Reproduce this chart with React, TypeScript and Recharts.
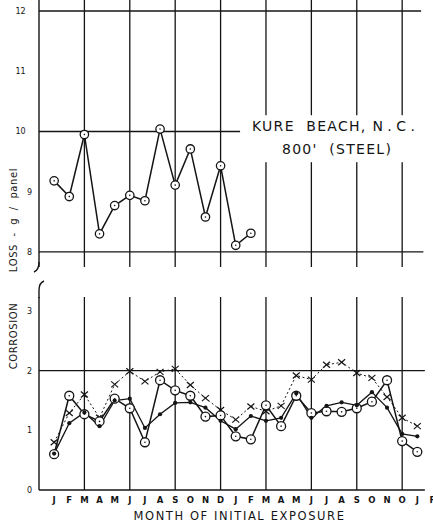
import React from "react";
import { LineChart, Line, XAxis, YAxis, ReferenceLine, ReferenceArea, Customized, Label } from "recharts";

// month of initial exposure, two years (the 24th label prints as "O")
const months = ["J", "F", "M", "A", "M", "J", "J", "A", "S", "O", "N", "D", "J", "F", "M", "A", "M", "J", "J", "A", "S", "O", "N", "O", "J", "F"];
const monthTicks = months.map((_, i) => i);
const gridMonths = [2, 5, 8, 11, 14, 17, 20, 23];

// upper panel: 800 ft lot, g / panel
const steel800 = [9.18, 8.92, 9.95, 8.3, 8.77, 8.94, 8.85, 10.04, 9.11, 9.71, 8.58, 9.43, 8.11, 8.31];

// lower panel: three series
const openCircles = [0.6, 1.58, 1.27, 1.15, 1.53, 1.37, 0.8, 1.84, 1.67, 1.58, 1.23, 1.25, 0.9, 0.85, 1.42, 1.07, 1.58, 1.29, 1.32, 1.31, 1.37, 1.48, 1.84, 0.82, 0.64];
const solidDots = [0.61, 1.12, 1.3, 1.07, 1.5, 1.53, 1.04, 1.27, 1.46, 1.47, 1.38, 1.16, 1.02, 1.24, 1.16, 1.21, 1.62, 1.21, 1.41, 1.47, 1.42, 1.64, 1.38, 0.94, 0.9];
const crosses = [0.8, 1.29, 1.6, 1.21, 1.77, 1.99, 1.82, 1.98, 2.03, 1.76, 1.54, 1.34, 1.18, 1.4, 1.32, 1.41, 1.92, 1.85, 2.1, 2.14, 1.96, 1.88, 1.56, 1.21, 1.07];

const topTicks = [8, 9, 10, 11, 12];
const bottomTicks = [0, 1, 2, 3];

// one row per month so the upper panel spans the same months as the lower one
const topRows = months.map((_, i) => ({ i, steel: steel800[i] }));
const bottomRows = openCircles.map((v, i) => ({ i, circ: v, dot: solidDots[i], cross: crosses[i] }));

const INK = "#141414";
const FONT = "DejaVu Sans";
const X_DOMAIN: [number, number] = [-1, 25.5];
const TOP_DOMAIN: [number, number] = [7.75, 12.183];
const BOTTOM_DOMAIN: [number, number] = [0, 3.235];
// white patch behind the title, in data units
const titleBox = { x1: 12.3, x2: 25.5, y1: 9.49, y2: 10.27 };
// half width of a gridline bar, in months (~1.3 px)
const GRID_HALF = 0.043;

function YTick(props: any) {
  const { y, payload } = props;
  const s = String(payload.value);
  const cx = 39 - (s.length > 1 ? 18.5 : 9.5);
  return (
    <text x={cx} y={y} dy={3} textAnchor="middle" fontFamily={FONT} fontSize={8} fill={INK}>
      {s}
    </text>
  );
}

function Ring(r: number) {
  return (props: any) => {
    const { cx, cy, index, value } = props;
    if (cx == null || cy == null || value == null) return <g key={index} />;
    return (
      <g key={index}>
        <circle cx={cx} cy={cy} r={r} fill="#fff" stroke={INK} strokeWidth={1.3} />
        <circle cx={cx} cy={cy} r={0.8} fill={INK} />
      </g>
    );
  };
}

function Dot(props: any) {
  const { cx, cy, index } = props;
  if (cx == null || cy == null) return <g key={index} />;
  return <circle key={index} cx={cx} cy={cy} r={2.1} fill={INK} />;
}

function Cross(props: any) {
  const { cx, cy, index } = props;
  if (cx == null || cy == null) return <g key={index} />;
  return (
    <g key={index} stroke={INK} strokeWidth={1.2}>
      <line x1={cx - 3.5} y1={cy - 3} x2={cx + 3.5} y2={cy + 3} />
      <line x1={cx - 3.5} y1={cy + 3} x2={cx + 3.5} y2={cy - 3} />
    </g>
  );
}

// white patch plus the station title, drawn as the area's own shape
function TitleShape(props: any) {
  const { x, y, width, height } = props;
  return (
    <g>
      <rect x={x} y={y} width={width} height={height} fill="#fff" />
      <g fontFamily={FONT} fill={INK}>
        <text x={x + 11.7} y={y + 15.8} fontSize={14} letterSpacing={1.3} style={{ whiteSpace: "pre" }}>
          {"KURE  BEACH, "}
          <tspan letterSpacing={4.5}>N.C.</tspan>
        </text>
        <text x={x + 41.7} y={y + 38.8} fontSize={14} letterSpacing={1.3} style={{ whiteSpace: "pre" }}>
          {"800'  (STEEL)"}
        </text>
      </g>
    </g>
  );
}

function TopDecor() {
  return (
    <g fontFamily={FONT} fill={INK}>
      <path d="M39 262 Q39 270 34 272" stroke={INK} strokeWidth={1.4} fill="none" />
      <text x={17} y={220} transform="rotate(-90, 17, 220)" textAnchor="middle" fontSize={10} letterSpacing={0.6} style={{ whiteSpace: "pre" }}>
        {"LOSS  -  g  /  panel"}
      </text>
    </g>
  );
}

function BottomDecor() {
  return (
    <g fontFamily={FONT} fill={INK}>
      <path d="M44 14 Q39 16 39 23 L39 31" stroke={INK} strokeWidth={1.4} fill="none" />
      <text x={17} y={69} transform="rotate(-90, 17, 69)" textAnchor="middle" fontSize={10} letterSpacing={0.6}>
        CORROSION
      </text>
    </g>
  );
}

export default function App() {
  return (
    <div style={{ position: "absolute", left: 0, top: 0, width: 433, height: 525, overflow: "hidden", background: "#fff" }}>
      <div style={{ position: "absolute", left: 0, top: 0 }}>
        <LineChart width={440} height={280} data={topRows} margin={{ top: 0, right: 0, bottom: 13, left: 0 }}>
          <XAxis type="number" dataKey="i" domain={X_DOMAIN} hide allowDataOverflow />
          <YAxis
            type="number"
            domain={TOP_DOMAIN}
            ticks={topTicks}
            width={39}
            allowDataOverflow
            tickLine={false}
            axisLine={{ stroke: INK, strokeWidth: 1.4 }}
            tick={<YTick />}
          />
          <ReferenceLine ifOverflow="visible" stroke={INK} strokeWidth={1.3} segment={[{ x: -1, y: 12 }, { x: 24.25, y: 12 }]} />
          <ReferenceLine ifOverflow="visible" stroke={INK} strokeWidth={1.3} segment={[{ x: -1, y: 10 }, { x: titleBox.x1, y: 10 }]} />
          <ReferenceLine ifOverflow="visible" stroke={INK} strokeWidth={1.3} segment={[{ x: -1, y: 8 }, { x: 24.4, y: 8 }]} />
          {gridMonths.map((m) => (
            <ReferenceArea
              key={m}
              x1={m - GRID_HALF}
              x2={m + GRID_HALF}
              y1={TOP_DOMAIN[0]}
              y2={TOP_DOMAIN[1]}
              fill={INK}
              fillOpacity={1}
              stroke="none"
              ifOverflow="visible"
            />
          ))}
          <ReferenceArea
            x1={titleBox.x1}
            x2={titleBox.x2}
            y1={titleBox.y1}
            y2={titleBox.y2}
            ifOverflow="visible"
            zIndex={450}
            shape={<TitleShape />}
          />
          <Line type="linear" dataKey="steel" stroke={INK} strokeWidth={1.5} dot={Ring(4.2)} isAnimationActive={false} />
          <Customized component={TopDecor} />
        </LineChart>
      </div>
      <div style={{ position: "absolute", left: 0, top: 267 }}>
        <LineChart width={440} height={258} data={bottomRows} margin={{ top: 30, right: 0, bottom: 0, left: 0 }}>
          <XAxis
            type="number"
            dataKey="i"
            domain={X_DOMAIN}
            ticks={monthTicks}
            interval={0}
            allowDataOverflow
            height={35}
            axisLine={false}
            tickLine={false}
            tickSize={5}
            tickFormatter={(v: number) => months[v]}
            tick={{ fontFamily: FONT, fontSize: 8.5, fontWeight: 700, fill: INK }}
          >
            <Label
              value="MONTH OF INITIAL EXPOSURE"
              position="insideBottom"
              offset={5}
              style={{ fontFamily: FONT, fontSize: 11.5, letterSpacing: 1.6, fill: INK }}
            />
          </XAxis>
          <YAxis
            type="number"
            domain={BOTTOM_DOMAIN}
            ticks={bottomTicks}
            width={39}
            allowDataOverflow
            tickLine={false}
            axisLine={{ stroke: INK, strokeWidth: 1.4 }}
            tick={<YTick />}
          />
          <ReferenceLine ifOverflow="visible" stroke={INK} strokeWidth={1.2} segment={[{ x: -1, y: 2 }, { x: 24.5, y: 2 }]} />
          <ReferenceLine ifOverflow="visible" stroke={INK} strokeWidth={1.6} segment={[{ x: -1, y: 0 }, { x: 24.5, y: 0 }]} />
          {gridMonths.map((m) => (
            <ReferenceLine key={m} x={m} stroke={INK} strokeWidth={1.3} />
          ))}
          <Line type="linear" dataKey="cross" stroke={INK} strokeWidth={1} strokeDasharray="2 2.5" dot={Cross} isAnimationActive={false} />
          <Line type="linear" dataKey="circ" stroke={INK} strokeWidth={1.5} dot={Ring(4.5)} isAnimationActive={false} />
          <Line type="linear" dataKey="dot" stroke={INK} strokeWidth={1.3} dot={Dot} isAnimationActive={false} />
          <Customized component={BottomDecor} />
        </LineChart>
      </div>
    </div>
  );
}
